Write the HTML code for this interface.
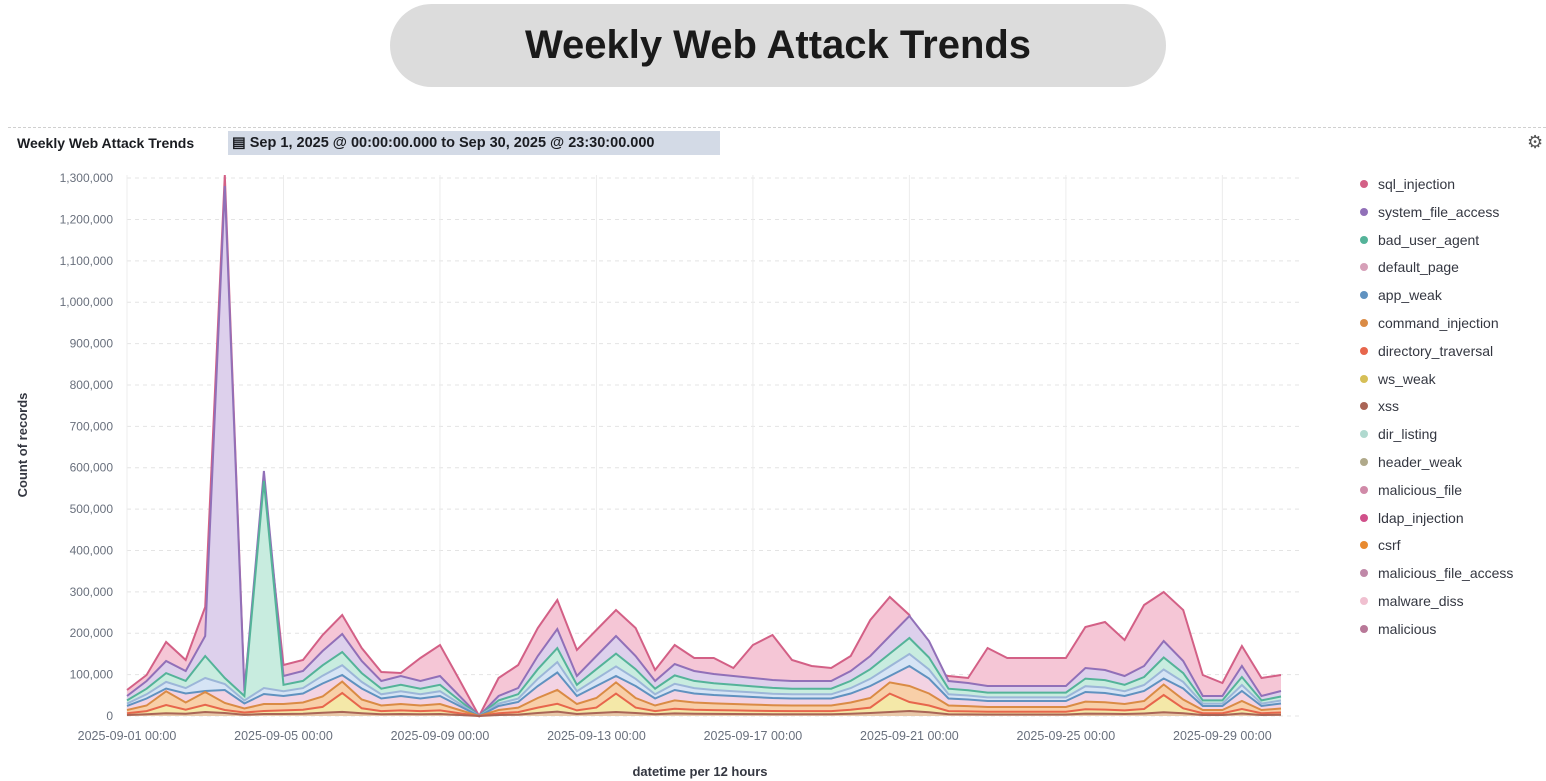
<!DOCTYPE html>
<html><head><meta charset="utf-8"><style>
html,body{margin:0;padding:0;background:#fff;width:1546px;height:781px;overflow:hidden;font-family:"Liberation Sans",sans-serif}
.pill{position:absolute;left:390px;top:4px;width:776px;height:83px;border-radius:42px;background:#dcdcdc;text-align:center;line-height:83px;font-size:40px;font-weight:bold;color:#1a1a1a}
.hdr{position:absolute;left:17px;top:135px;font-size:14px;font-weight:bold;color:#1a1c21}
.badge{position:absolute;left:228px;top:131px;width:492px;height:24px;background:#d3dae6;font-size:14.5px;line-height:24px;color:#1a1c21;font-weight:bold}
.leg{position:absolute;left:1360px;font-size:14px;color:#343741}
.leg span{display:inline-block;width:8px;height:8px;border-radius:50%;margin-right:10px;vertical-align:1px}
</style></head><body>
<div class="pill">Weekly Web Attack Trends</div>
<div style="position:absolute;left:8px;right:0;top:127px;border-top:1px dashed #d0d0d0"></div>
<div class="hdr">Weekly Web Attack Trends</div>
<div class="badge">&nbsp;&#9636; Sep 1, 2025 @ 00:00:00.000 to Sep 30, 2025 @ 23:30:00.000</div>
<div style="position:absolute;left:1527px;top:132px;font-size:18px;color:#555">&#9881;</div>
<svg id="c" width="1546" height="781" style="position:absolute;left:0;top:0"></svg>
<div id="lg"></div>
<script>
var svg=document.getElementById('c'),ns='http://www.w3.org/2000/svg',h='';
var x0=127,dx=19.56,base=716,u=41.38;
// grid
for(var i=0;i<=13;i++){var y=base-i*u;h+='<line x1="127" x2="1300" y1="'+y+'" y2="'+y+'" stroke="#e4e4e4" stroke-dasharray="4,4"/>';
var lab=i==0?'0':(i*100).toLocaleString('en-US')+',000';h+='<text x="113" y="'+(y+4)+'" text-anchor="end" font-size="12" fill="#69707d">'+lab+'</text>';}
var dates=['01','05','09','13','17','21','25','29'];
for(var k=0;k<8;k++){var x=x0+k*8*dx;h+='<line x1="'+x+'" x2="'+x+'" y1="175" y2="716" stroke="#ececec"/>';h+='<text x="'+x+'" y="740" text-anchor="middle" font-size="12.5" fill="#69707d">2025-09-'+dates[k]+' 00:00</text>';}
h+='<text x="27" y="445" transform="rotate(-90 27 445)" text-anchor="middle" font-size="13" font-weight="bold" fill="#343741">Count of records</text>';
h+='<text x="700" y="776" text-anchor="middle" font-size="13" font-weight="bold" fill="#343741">datetime per 12 hours</text>';
var Ty=[690,675,642,660,607,175,690,485,665,660,635,615,648,672,673,658,645,680,716,678,665,628,600,650,630,610,628,670,645,658,658,668,645,635,660,666,668,656,620,597,615,672,676,678,648,658,658,658,658,627,622,640,605,592,610,675,683,646,678,675];
var P=[20,35,55,45,80,530,25,245,40,45,65,82,55,35,40,35,40,20,0,20,28,60,87,40,60,80,60,35,52,45,42,40,38,36,35,35,35,45,60,80,100,75,35,33,30,30,30,30,30,48,46,40,50,75,55,20,20,50,20,25];
var T=Ty.map(function(y){return base-y});
var G=[],B=[],O=[],Y=[],R=[],Q=[];
for(var i=0;i<60;i++){var p=P[i];G[i]=p*0.78;B[i]=p*0.5;Q[i]=p*0.62;O[i]=p*0.3;Y[i]=p*0.14;R[i]=p*0.05;}
G[5]=38;B[5]=26;Q[5]=32;O[5]=13;Y[5]=6;R[5]=3;G[6]=20;
G[7]=235;B[7]=22;Q[7]=28;O[7]=12;Y[7]=5;R[7]=2;G[4]=60;B[4]=25;Q[4]=38;
[11,25,39,53].forEach(function(i){O[i]=P[i]*0.42;Y[i]=P[i]*0.28;});
[2].forEach(function(i){O[i]=P[i]*0.45;Y[i]=P[i]*0.2;});
function pts(a){return a.map(function(v,i){return (x0+i*dx).toFixed(1)+','+(base-v).toFixed(1)}).join(' ')}
function area(top,bot,fill,line){var s=pts(top);var b=bot.map(function(v,i){return (x0+i*dx).toFixed(1)+','+(base-v).toFixed(1)}).reverse().join(' ');
h+='<polygon points="'+s+' '+b+'" fill="'+fill+'"/>';h+='<polyline points="'+s+'" fill="none" stroke="'+line+'" stroke-width="2"/>';}
var Z=T.map(function(){return 0});
area(T,P,'#f5c6d6','#d36086');
area(P,G,'#ddd0ec','#9170b8');
area(G,Q,'#c8ecdf','#54b399');
area(Q,B,'#d6e4f5','#9cb6d8');
area(B,O,'#f3d3e3','#6092c0');
area(O,Y,'#f8cfa8','#da8b45');
area(Y,R,'#f4e8a8','#e7664c');
area(R,Z,'#e8c8a8','#aa6556');
svg.innerHTML=h;
var names=['sql_injection','system_file_access','bad_user_agent','default_page','app_weak','command_injection','directory_traversal','ws_weak','xss','dir_listing','header_weak','malicious_file','ldap_injection','csrf','malicious_file_access','malware_diss','malicious'];
var cols=['#d36086','#9170b8','#54b399','#d6a0b8','#6092c0','#da8b45','#e7664c','#d6bf57','#aa6556','#b0d9cf','#b0a98a','#d08aa8','#d0508a','#e88a30','#c088a8','#f0c0d0','#b87898'];
var lg='';for(var i=0;i<17;i++){lg+='<div class="leg" style="top:'+(176+i*27.8)+'px"><span style="background:'+cols[i]+'"></span>'+names[i]+'</div>';}
document.getElementById('lg').innerHTML=lg;
</script>
</body></html>
